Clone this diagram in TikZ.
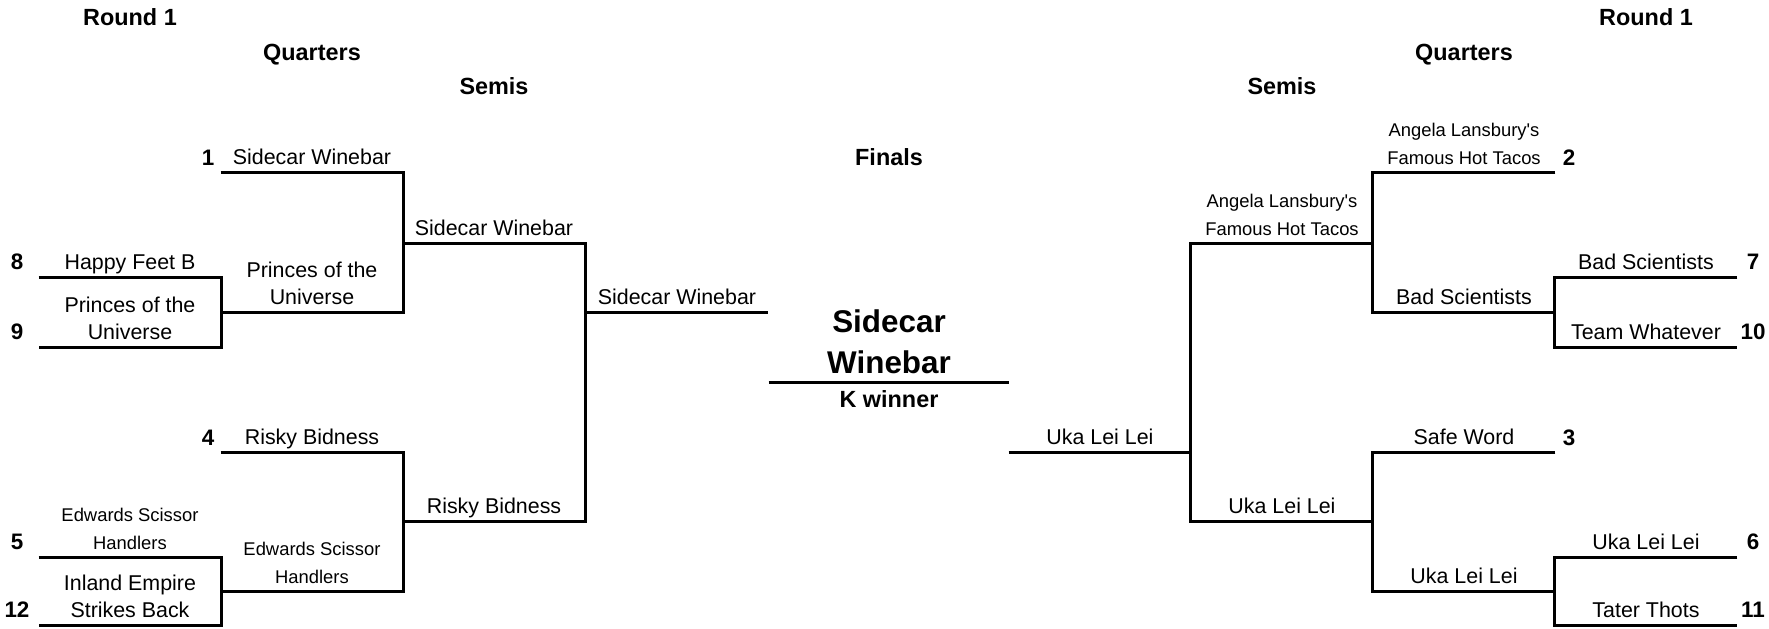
\documentclass[tikz,border=0pt]{standalone}
\usepackage{fontspec}
\setmainfont{Liberation Sans}
\tikzset{head/.style={font=\fontsize{11.7pt}{14pt}\selectfont\bfseries,anchor=base,inner sep=0pt}, slot/.style={anchor=south,align=center,inner xsep=0pt,inner ysep=3.75pt,text depth=0pt,minimum width=91pt,font=\fontsize{10.7pt}{13.5pt}\selectfont}, slotsm/.style={slot,font=\fontsize{9.2pt}{14pt}\selectfont}, seed/.style={font=\fontsize{11.2pt}{13pt}\selectfont\bfseries,anchor=base,inner sep=0pt}, champ/.style={slot,minimum width=120pt,inner ysep=4pt,font=\fontsize{15.7pt}{20.5pt}\selectfont\bfseries}, bline/.style={line width=1.5pt}}

\begin{document}
\begin{tikzpicture}[x=0.5pt,y=-0.5pt]
\useasboundingbox (0,0) rectangle (1769,628);
% round headers
\node[head] (hr1) at (130,25) {Round 1};
\node[head] (hq1) at (312,60) {Quarters};
\node[head] (hs1) at (494,94) {Semis};
\node[head] (hf) at (889,165) {Finals};
\node[head] (hs2) at (1282,94) {Semis};
\node[head] (hq2) at (1464,60) {Quarters};
\node[head] (hr2) at (1646,25) {Round 1};
% left half
\node[slot] (s8) at (130,277) {Happy Feet B};
\node[slot] (s9) at (130,347) {Princes of the\\Universe};
\node[slotsm] (s5) at (130,557) {Edwards Scissor\\Handlers};
\node[slot] (s12) at (130,625) {Inland Empire\\Strikes Back};
\node[slot] (s1) at (312,172) {Sidecar Winebar};
\node[slot] (q2) at (312,312) {Princes of the\\Universe};
\node[slot] (s4) at (312,452) {Risky Bidness};
\node[slotsm] (q4) at (312,591) {Edwards Scissor\\Handlers};
\node[slot] (m1) at (494,243) {Sidecar Winebar};
\node[slot] (m2) at (494,521) {Risky Bidness};
\node[slot] (f1) at (677,312) {Sidecar Winebar};
\node[seed] (n8) at (17,269) {8};
\node[seed] (n9) at (17,339) {9};
\node[seed] (n5) at (17,549) {5};
\node[seed] (n12) at (17,617) {12};
\node[seed] (n1) at (208,165) {1};
\node[seed] (n4) at (208,445) {4};
\draw[bline] (s8.south west) -- (s8.south east) -- (s9.south east) -- (s9.south west);
\draw[bline] (s5.south west) -- (s5.south east) -- (s12.south east) -- (s12.south west);
\draw[bline] (s1.south west) -- (s1.south east) -- (q2.south east) -- (q2.south west);
\draw[bline] (s4.south west) -- (s4.south east) -- (q4.south east) -- (q4.south west);
\draw[bline] (m1.south west) -- (m1.south east) -- (m2.south east) -- (m2.south west);
\draw[bline] (f1.south west) -- (f1.south east);
% winner
\node[champ] (win) at (889,382) {Sidecar\\Winebar};
\node[head] (kw) at (889,407) {K winner};
\draw[bline] (win.south west) -- (win.south east);
% right half
\node[slot] (f2) at (1100,452) {Uka Lei Lei};
\node[slotsm] (m3) at (1282,243) {Angela Lansbury\textquotesingle s\\Famous Hot Tacos};
\node[slot] (m4) at (1282,521) {Uka Lei Lei};
\node[slotsm] (s2) at (1464,172) {Angela Lansbury\textquotesingle s\\Famous Hot Tacos};
\node[slot] (q6) at (1464,312) {Bad Scientists};
\node[slot] (s3) at (1464,452) {Safe Word};
\node[slot] (q8) at (1464,591) {Uka Lei Lei};
\node[slot] (s7) at (1646,277) {Bad Scientists};
\node[slot] (s10) at (1646,347) {Team Whatever};
\node[slot] (s6) at (1646,557) {Uka Lei Lei};
\node[slot] (s11) at (1646,625) {Tater Thots};
\node[seed] (n2) at (1569,165) {2};
\node[seed] (n3) at (1569,445) {3};
\node[seed] (n7) at (1753,269) {7};
\node[seed] (n10) at (1753,339) {10};
\node[seed] (n6) at (1753,549) {6};
\node[seed] (n11) at (1753,617) {11};
\draw[bline] (f2.south west) -- (f2.south east);
\draw[bline] (m3.south east) -- (m3.south west) -- (m4.south west) -- (m4.south east);
\draw[bline] (s2.south east) -- (s2.south west) -- (q6.south west) -- (q6.south east);
\draw[bline] (s3.south east) -- (s3.south west) -- (q8.south west) -- (q8.south east);
\draw[bline] (s7.south east) -- (s7.south west) -- (s10.south west) -- (s10.south east);
\draw[bline] (s6.south east) -- (s6.south west) -- (s11.south west) -- (s11.south east);
\end{tikzpicture}
\end{document}
